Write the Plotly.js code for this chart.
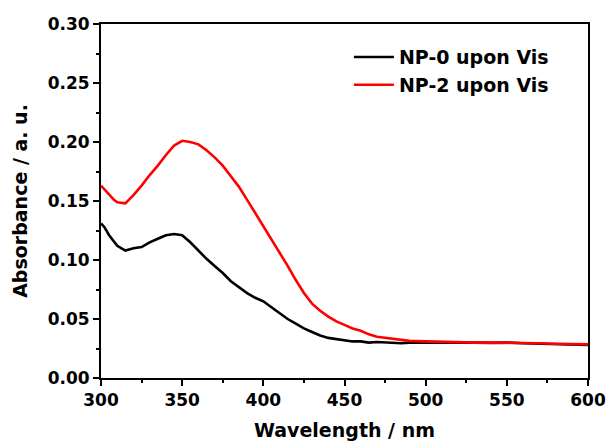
<!DOCTYPE html>
<html><head><meta charset="utf-8">
<script src="https://cdn.plot.ly/plotly-3.0.1.min.js"></script>
<style>html,body{margin:0;padding:0;background:#fff}</style>
</head><body><div id="chart" style="width:608px;height:443px"></div>
<script>
const wlBlack = [300,302,305,308,310,315,320,325,330,335,340,345,350,355,360,365,370,375,380,385,390,395,400,405,410,415,420,425,430,435,440,445,450,455,460,465,470,475,480,485,490,495,500,510,520,530,540,550,560,570,580,590,600];
const absBlack = [0.131,0.128,0.121,0.115,0.112,0.108,0.110,0.111,0.115,0.118,0.121,0.122,0.121,0.115,0.108,0.101,0.095,0.089,0.082,0.077,0.072,0.068,0.065,0.060,0.055,0.050,0.046,0.042,0.039,0.036,0.034,0.033,0.032,0.031,0.031,0.030,0.0305,0.030,0.030,0.0295,0.030,0.030,0.030,0.0305,0.030,0.030,0.0298,0.030,0.0295,0.029,0.029,0.0285,0.028];
const wlRed = [300,302,305,308,310,315,320,325,330,335,340,345,350,355,360,365,370,375,380,385,390,395,400,405,410,415,420,425,430,435,440,445,450,455,460,465,470,475,480,485,490,500,510,520,530,540,550,560,570,580,590,600];
const absRed = [0.163,0.160,0.155,0.151,0.149,0.148,0.155,0.163,0.172,0.180,0.189,0.197,0.201,0.200,0.198,0.193,0.187,0.180,0.171,0.162,0.151,0.140,0.129,0.117,0.107,0.095,0.083,0.072,0.063,0.057,0.052,0.048,0.045,0.042,0.040,0.037,0.035,0.034,0.033,0.032,0.0315,0.031,0.0305,0.030,0.030,0.030,0.030,0.030,0.0295,0.029,0.0285,0.0285];
const seriesNames = ["NP-0 upon Vis","NP-2 upon Vis"];

const font = {family:'"DejaVu Sans", sans-serif', color:'#000', weight:'bold'};
const traces = [
  {x:wlBlack, y:absBlack, mode:'lines', name:seriesNames[0], line:{color:'#000000', width:2.6}},
  {x:wlRed, y:absRed, mode:'lines', name:seriesNames[1], line:{color:'#ff0000', width:2.6}}
];
const axisCommon = {
  showline:true, linewidth:2, linecolor:'#000', mirror:true, showgrid:false, zeroline:false,
  ticks:'outside', ticklen:6, tickwidth:2, tickcolor:'#000',
  tickfont:{...font, size:17}
};
const layout = {
  width:608, height:443,
  margin:{l:101, r:20, t:24, b:65},
  paper_bgcolor:'#fff', plot_bgcolor:'#fff',
  font:font,
  showlegend:true,
  legend:{x:0.509, y:0.96, xanchor:'left', yanchor:'top', bgcolor:'rgba(0,0,0,0)',
          font:{...font, size:19}, tracegroupgap:0, itemwidth:40},
  xaxis:{...axisCommon, range:[300,600], dtick:50, tick0:300,
         minor:{dtick:25, ticks:'outside', ticklen:3, tickwidth:2, tickcolor:'#000'},
         title:{text:'Wavelength / nm', font:{...font, size:19}, standoff:14}},
  yaxis:{...axisCommon, range:[0,0.30], dtick:0.05, tick0:0, tickformat:'.2f',
         minor:{dtick:0.025, ticks:'outside', ticklen:3, tickwidth:2, tickcolor:'#000'},
         title:{text:'Absorbance / a. u.', font:{...font, size:19}, standoff:15}}
};
Plotly.newPlot('chart', traces, layout, {displayModeBar:false, staticPlot:true});
</script></body></html>
